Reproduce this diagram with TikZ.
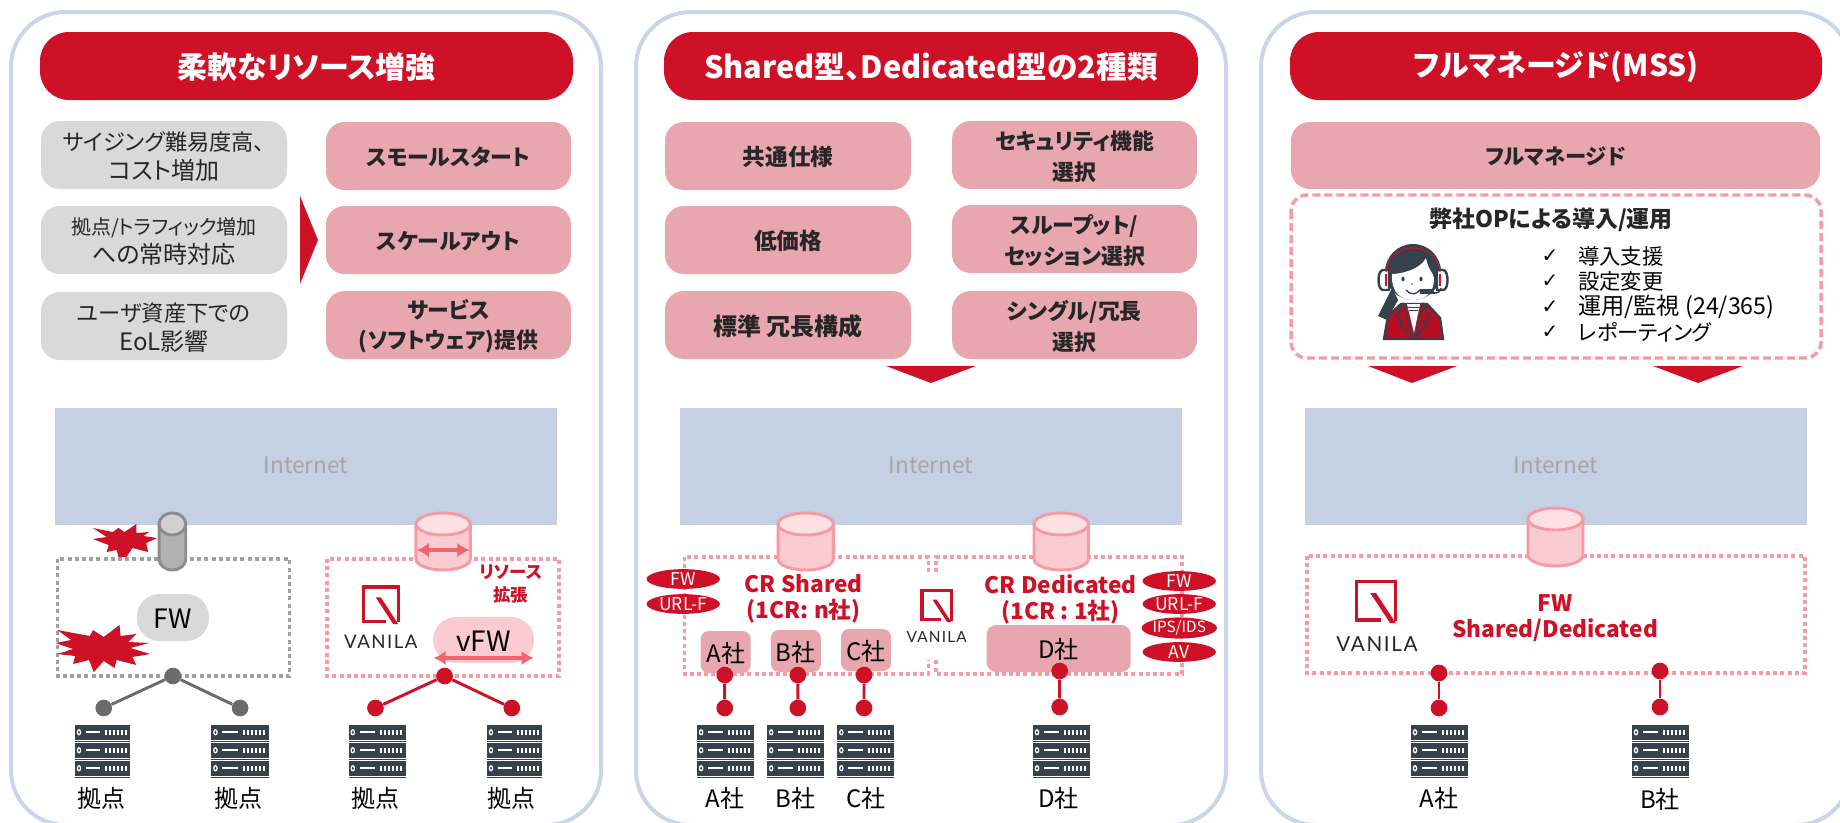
\documentclass[tikz,border=0pt]{standalone}
\usepackage{fontspec}
\usetikzlibrary{arrows.meta,shapes.geometric}
\setmainfont[RawFeature=+palt]{Noto Sans CJK JP}
\newfontfamily\chkfont{DejaVu Sans}
\newfontfamily\logofont[LetterSpace=8]{Lato}
\definecolor{cred}{HTML}{CE1126}
\definecolor{cpink}{HTML}{E8A7AF}
\definecolor{cgray}{HTML}{D9D9D9}
\definecolor{cpanel}{HTML}{C9D6EA}
\definecolor{cnet}{HTML}{C4D0E4}
\definecolor{cdot}{HTML}{F79AA5}
\definecolor{ccyl}{HTML}{FACBD0}
\definecolor{ccyltop}{HTML}{FDE0E3}
\definecolor{cdark}{HTML}{262626}
\definecolor{csrv}{HTML}{36414B}
\definecolor{cgline}{HTML}{6B6B6B}
\definecolor{cgdot}{HTML}{A0A0A0}
\definecolor{carrow}{HTML}{F2636F}
\newcommand\fs[2]{\fontsize{#1}{#2}\selectfont}
\tikzset{
  panelbox/.style={draw=cpanel,line width=3pt,fill=white,rounded corners=41pt},
  hdr/.style={fill=cred,text=white,rounded corners=21.7pt,font=\fs{22.5}{26}\bfseries},
  graybox/.style={fill=cgray,text=cdark,rounded corners=14pt,align=center,font=\fs{16.7}{22}},
  pinkbox/.style={fill=cpink,text=cdark,rounded corners=14pt,align=center,font=\fs{16.4}{23}\bfseries},
  net/.style={fill=cnet},
  nettxt/.style={text=black!35,inner sep=0pt,font=\fs{17}{20}},
  dotp/.style={draw=cdot,line width=2.6pt,dash pattern=on 3pt off 2.4pt},
  dotg/.style={draw=cgdot,line width=2.6pt,dash pattern=on 3pt off 2.4pt},
  rdot/.style={circle,fill=cred,inner sep=0pt,minimum size=12.5pt},
  gdot/.style={circle,fill=cgline,inner sep=0pt,minimum size=12.5pt},
  rline/.style={draw=cred,line width=2.2pt},
  gline/.style={draw=cgline,line width=2.2pt},
  tag/.style={ellipse,fill=cred,text=white,inner sep=0pt,minimum width=55pt,minimum height=14.8pt,font=\fs{13.2}{14}},
  lbl/.style={text=black,font=\fs{18}{20}},
  redtxt/.style={text=cred,align=center,font=\fs{17}{19.5}\bfseries},
  flatarrow/.style={fill=cred},
  dbl/.style={{Latex[length=9pt,width=11pt]}-{Latex[length=9pt,width=11pt]},draw=carrow,line width=3pt},
  chk/.style={inner sep=0pt,text=black,font=\fs{15}{16}\chkfont},
  itm/.style={anchor=west,inner sep=0pt,text=black,font=\fs{16}{18}},
  cobox/.style={fill=cpink,text=black,font=\fs{18}{20}},
}
\newcommand\bx[7]{% name,x1,y1,x2,y2,style,text
  \pgfmathsetmacro\bw{(#4-#2)*0.75}\pgfmathsetmacro\bh{(#5-#3)*0.75}
  \node[#6,inner sep=0pt,minimum width=\bw pt,minimum height=\bh pt] (#1) at ({(#2+#4)/2},{(#3+#5)/2}) {};
  \node[#6,fill=none,inner sep=0pt,yshift=-1pt] (#1t) at ({(#2+#4)/2},{(#3+#5)/2}) {#7};}
\newcommand\srv[3]{% name,x1,x2
  \begin{scope}[shift={(#2,725)},xscale={(#3-#2)/57}]
    \foreach \r in {0,18,36}{
      \fill[csrv] (0,\r) rectangle (57,\r+14.5);
      \fill[csrv] (0,\r+15.5) rectangle (57,\r+17);
      \fill[white] (4,\r+7.25) ellipse (2.3 and 3.2);
      \fill[csrv] (4,\r+7.25) ellipse (1 and 1.8);
      \fill[white] (11,\r+6.2) rectangle (26,\r+8.2);
      \foreach \k in {31,35,39,43,47,51}{\fill[white] (\k,\r+4.5) rectangle (\k+2,\r+10);}
    }
    \coordinate (#1) at (28.5,0);
  \end{scope}}
\newcommand\logo[8]{% sx1 sy1 sx2 sy2 textx texty size name
  \begin{scope}[shift={(#1,#2)},xscale={(#3-#1)/10},yscale={(#4-#2)/10}]
    \draw[cred,line width=2.4pt,miter limit=10] (6.2,9.3) -- (0.5,9.3) -- (0.5,0.5) -- (9.5,0.5) -- (9.5,9.6);
    \fill[cred] (3.7,3.2) -- (5,3.2) -- (9.5,10) -- (8.2,10) -- cycle;
  \end{scope}
  \node[text=cdark,inner sep=0pt,font={\fs{#7}{#7}\logofont}] (#8) at (#5,#6) {VANILA};}
\newcommand\cyl[8]{% name x1 x2 y1 y2 side top stroke
  \pgfmathsetmacro\cxx{(#2+#3)/2}\pgfmathsetmacro\crx{(#3-#2)/2}
  \draw[#8,line width=2.2pt,fill=#6] (#2,#4+11) -- (#2,#5-11) arc[start angle=180,end angle=0,x radius=\crx,y radius=11] -- (#3,#4+11) -- cycle;
  \draw[#8,line width=2.2pt,fill=#7] (\cxx,#4+11) ellipse[x radius=\crx,y radius=11];
  \coordinate (#1) at (\cxx,#4);}
\begin{document}
\begin{tikzpicture}[x=0.75pt,y=-0.75pt]
\useasboundingbox (0,0) rectangle (1840,822);
\fill[white] (0,0) rectangle (1840,822);
% panels
\draw[panelbox] (11,12) rectangle (601,825);
\draw[panelbox] (636,12) rectangle (1226,825);
\draw[panelbox] (1261,12) rectangle (1851,825);
% headers
\bx{h1}{40}{32}{573}{100}{hdr}{柔軟なリソース増強}
\bx{h2}{664}{32}{1198}{100}{hdr}{\fs{23}{26}Shared型、Dedicated型の2種類}
\bx{h3}{1290}{32}{1822}{100}{hdr}{フルマネージド(MSS)}
% panel 1 boxes
\bx{g1}{41}{121}{287}{189}{graybox}{サイジング難易度高、\\\fs{18}{22}コスト増加}
\bx{g2}{41}{206}{287}{274}{graybox}{\fs{15}{22}拠点/トラフィック増加\\\fs{18}{22}への常時対応}
\bx{g3}{41}{292}{287}{360}{graybox}{ユーザ資産下での\\\fs{18}{22}EoL影響}
\bx{p1}{326}{122}{571}{190}{pinkbox}{スモールスタート}
\bx{p2}{326}{206}{571}{274}{pinkbox}{スケールアウト}
\bx{p3}{326}{291}{571}{359}{pinkbox}{サービス\\(ソフトウェア)提供}
\fill[flatarrow] (300,196) -- (318,240) -- (300,284) -- cycle;
% panel 2 boxes
\bx{c1}{665}{122}{911}{190}{pinkbox}{\fs{17}{23}共通仕様}
\bx{c2}{665}{206}{911}{274}{pinkbox}{\fs{17}{23}低価格}
\bx{c3}{665}{291}{911}{359}{pinkbox}{\fs{18}{23}標準 冗長構成}
\bx{s1}{952}{121}{1197}{189}{pinkbox}{セキュリティ機能\\選択}
\bx{s2}{952}{205}{1197}{273}{pinkbox}{スループット/\\セッション選択}
\bx{s3}{952}{291}{1197}{359}{pinkbox}{シングル/冗長\\選択}
\fill[flatarrow] (886,366) -- (976,366) -- (931,383) -- cycle;
% panel 3 boxes
\bx{m1}{1291}{122}{1820}{189}{pinkbox}{\fs{16}{20}フルマネージド}
\draw[cdot,line width=2.6pt,dash pattern=on 6pt off 3pt,rounded corners=12pt] (1291,195) rectangle (1821,358);
\node[text=cdark,font=\fs{17.2}{20}\bfseries,inner sep=0pt] (opt) at (1551,220) {弊社OPによる導入/運用};
\node[chk] (ck1) at (1550,256) {✓};
\node[chk] (ck2) at (1550,281) {✓};
\node[chk] (ck3) at (1550,307) {✓};
\node[chk] (ck4) at (1550,332) {✓};
\node[itm] (it1) at (1578,256) {導入支援};
\node[itm] (it2) at (1578,281) {設定変更};
\node[itm,font=\fs{17.4}{18}] (it3) at (1578,307) {運用/監視 (24/365)};
\node[itm] (it4) at (1578,332) {レポーティング};
\fill[flatarrow] (1368,366) -- (1457,366) -- (1412,383) -- cycle;
\fill[flatarrow] (1653,366) -- (1743,366) -- (1698,383) -- cycle;
% operator
\begin{scope}
  \fill[csrv] (1378,316) -- (1392,288) -- (1398,300) -- (1387,320) -- cycle;
  \draw[csrv,line width=1.8pt,fill=cred!88!black] (1384,339) -- (1388,316) -- (1401,304) -- (1427,304) -- (1440,318) -- (1443,339) -- cycle;
  \fill[white] (1407,304) -- (1420,304) -- (1414,333) -- cycle;
  \draw[csrv,line width=.6pt] (1408,307) -- (1419,307) (1409,310) -- (1418,310);
  \draw[csrv,line width=1.2pt,fill=cred!88!black] (1403,304) -- (1397,317) -- (1402,321) -- (1400,325) -- (1413,337) -- (1406,312) -- cycle;
  \draw[csrv,line width=1.2pt,fill=cred!88!black] (1423,304) -- (1430,317) -- (1425,321) -- (1427,325) -- (1415,337) -- (1421,312) -- cycle;
  \fill[csrv] (1413,272) ellipse (28 and 28);
  \draw[csrv,line width=1.8pt,fill=white] (1383,270) .. controls (1377,270) and (1377,290) .. (1383,290) -- (1389,290) -- (1389,270) -- cycle;
  \draw[csrv,line width=1.8pt,fill=white] (1443,270) .. controls (1449,270) and (1449,290) .. (1443,290) -- (1437,290) -- (1437,270) -- cycle;
  \fill[cred] (1385,274) rectangle (1387,286);\fill[cred] (1439,274) rectangle (1441,286);
  \fill[white] (1392,274) .. controls (1400,274) and (1420,270) .. (1426,258) .. controls (1428,270) and (1434,274) .. (1434,278) .. controls (1434,296) and (1422,300) .. (1413,300) .. controls (1402,300) and (1391,294) .. (1392,274) -- cycle;
  \draw[cred,line width=.8pt] (1386,272) .. controls (1388,240) and (1438,240) .. (1440,272);
  \fill[csrv] (1403,279) ellipse (1.6 and 2.3); \fill[csrv] (1421,279) ellipse (1.6 and 2.3);
  \fill[csrv] (1412,284) circle (.9);
  \draw[csrv,line width=1pt] (1406,290) .. controls (1410,295) and (1416,295) .. (1420,290);
  \fill[csrv] (1420,289) rectangle (1434,294);
  \draw[csrv,line width=1.2pt] (1434,293) .. controls (1438,293) and (1440,292) .. (1441,288);
\end{scope}
% Internet
\bx{n1}{55}{408}{557}{525}{net}{}
\bx{n2}{680}{408}{1182}{525}{net}{}
\bx{n3}{1305}{408}{1807}{525}{net}{}
\node[nettxt] (nt1) at (306,465) {Internet};
\node[nettxt] (nt2) at (931,465) {Internet};
\node[nettxt] (nt3) at (1556,465) {Internet};
% --- panel 1 diagram
\begin{scope}[xscale=0.988]
\draw[dotg] (58,559) rectangle (293,676);
\draw[dotp] (331,559) rectangle (566,676);
\cyl{cg}{161}{188}{513}{570}{black!30}{black!18}{black!45}
\fill[cred] (94,528)--(114,532)--(120,528)--(126,532)--(138,524)--(138,533)--(151,532)--(145,536)--(159,538)--(148,543)--(150,552)--(134,548)--(128,557)--(120,557)--(118,550)--(108,552)--(110,545)--(94,539)--(108,537)--cycle;
\fill[cred] (58,630)--(91,636)--(94,630)--(105,637)--(121,625)--(122,636)--(138,634)--(130,642)--(151,643)--(132,648)--(152,654)--(134,657)--(138,665)--(118,660)--(116,668)--(105,661)--(95,672)--(90,660)--(74,664)--(76,656)--(58,654)--(74,649)--(56,643)--(72,640)--cycle;
\bx{fw}{139}{594}{211}{641}{fill=cgray,text=black,rounded corners=17pt,font=\fs{20}{22}}{FW}
\cyl{cp}{421}{476}{513}{570}{ccyl}{ccyltop}{cdot}
\draw[dbl] (422,550) -- (475,550);
\logo{366}{585}{405}{624}{385.5}{642}{14}{vn1}
\node[redtxt,font=\fs{13}{17}\bfseries,inner sep=0pt] (rs) at (517,584) {リソース\\拡張};
\bx{vfw}{439}{617}{540}{663}{fill=ccyl,text=black,rounded corners=17pt,font=\fs{21}{22}}{vFW}
\draw[dbl] (439,658) -- (540,658);
\node[gdot] (gt) at (175,676) {};
\node[gdot] (gl) at (105,708) {};
\node[gdot] (gr) at (243,708) {};
\draw[gline] (gl) -- (gt) -- (gr);
\node[rdot] (rt) at (450,676) {};
\node[rdot] (rl) at (380,708) {};
\node[rdot] (rr) at (518,708) {};
\draw[rline] (rl) -- (rt) -- (rr);
\srv{sv1}{76}{132}\srv{sv2}{214}{272}\srv{sv3}{353}{411}\srv{sv4}{493}{549}
\node[lbl] (k1) at (103,798) {拠点};
\node[lbl] (k2) at (241,798) {拠点};
\node[lbl] (k3) at (380,798) {拠点};
\node[lbl] (k4) at (518,798) {拠点};
\end{scope}
% --- panel 2 diagram
\begin{scope}[shift={(7.44,0)},xscale=0.988]
\draw[dotp] (932,572) -- (932,557) -- (685,557) -- (685,674) -- (932,674) -- (932,660);
\draw[dotp] (940,572) -- (940,557) -- (1189,557) -- (1189,674) -- (940,674) -- (940,660);
\cyl{cs}{780}{836}{513}{570}{ccyl}{ccyltop}{cdot}
\cyl{cd}{1039}{1094}{513}{570}{ccyl}{ccyltop}{cdot}
\node[tag] (t1) at (684,579) {FW};
\node[tag] (t2) at (684,604) {URL-F};
\node[tag] (t3) at (1186,581) {FW};
\node[tag] (t4) at (1186,604) {URL-F};
\node[tag,font=\fs{11.5}{14}] (t5) at (1186,628) {IPS/IDS};
\node[tag] (t6) at (1186,652) {AV};
\node[redtxt,inner sep=0pt] (crs) at (806,599) {CR Shared\\(1CR: n社)};
\node[redtxt,inner sep=0pt] (crd) at (1066,599) {CR Dedicated\\(1CR : 1社)};
\logo{924}{589}{957}{622}{940.5}{637}{11.5}{vn2}
\bx{a}{702}{631}{752}{673}{cobox,rounded corners=6pt}{A社}
\bx{b}{773}{630}{823}{672}{cobox,rounded corners=6pt}{B社}
\bx{cc}{844}{629}{894}{671}{cobox,rounded corners=6pt}{C社}
\bx{d}{992}{625}{1136}{672}{cobox,rounded corners=7pt}{D社}
\node[rdot] (at) at (726,675) {};\node[rdot] (ab) at (726,708) {};
\node[rdot] (bt) at (800,675) {};\node[rdot] (bb) at (800,708) {};
\node[rdot] (ct) at (867,675) {};\node[rdot] (cb) at (867,708) {};
\node[rdot] (dt) at (1065,671) {};\node[rdot] (db) at (1065,707) {};
\draw[rline] (at) -- (ab) (bt) -- (bb) (ct) -- (cb) (dt) -- (db);
\srv{sa}{698}{756}\srv{sb}{769}{826}\srv{sc}{840}{897}\srv{sd}{1038}{1096}
\node[lbl] (la) at (726,798) {A社};
\node[lbl] (lb) at (798,798) {B社};
\node[lbl] (lc) at (869,798) {C社};
\node[lbl] (ld) at (1064,798) {D社};
\end{scope}
% --- panel 3 diagram
\draw[dotp] (1307,556) rectangle (1805,673);
\cyl{cm}{1528}{1583}{508}{566}{ccyl}{ccyltop}{cdot}
\logo{1354}{579}{1398}{623}{1377}{644}{15.5}{vn3}
\node[redtxt,inner sep=0pt] (fs) at (1555,618) {FW\\Shared/Dedicated};
\node[rdot] (mat) at (1439,673) {};\node[rdot] (mab) at (1439,708) {};
\node[rdot] (mbt) at (1660,671) {};\node[rdot] (mbb) at (1660,707) {};
\draw[rline] (mat) -- (mab) (mbt) -- (mbb);
\srv{sm}{1411}{1468}\srv{sn}{1632}{1689}
\node[lbl] (lma) at (1439,798) {A社};
\node[lbl] (lmb) at (1660,799) {B社};
\end{tikzpicture}
\end{document}
